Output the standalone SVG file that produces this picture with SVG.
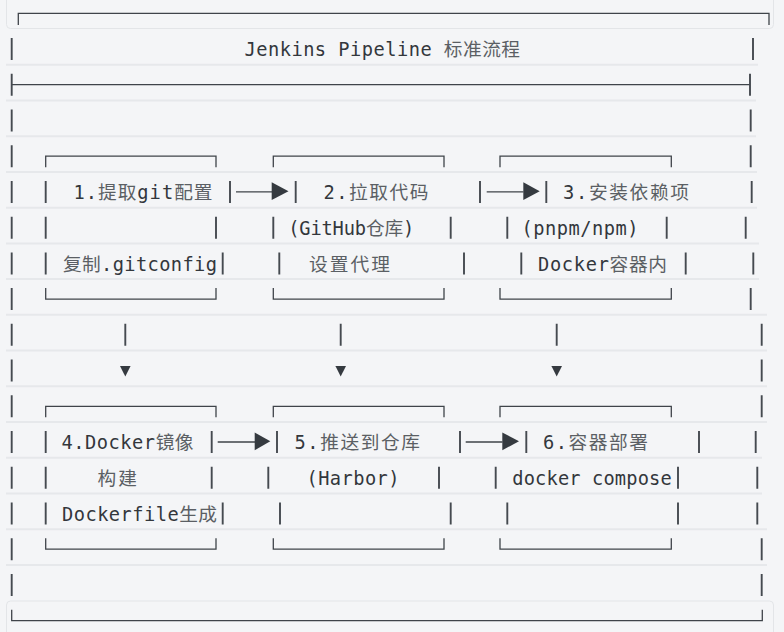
<svg xmlns="http://www.w3.org/2000/svg" width="784" height="632" viewBox="0 0 784 632">
<style>
.bg{fill:#f4f5f7}
.sep{stroke:#e6e8eb;stroke-width:2;fill:none}
.rowbox{fill:none;stroke:#e3e5e8;stroke-width:1}
.ln{stroke:#3f444a;stroke-width:1.3;fill:none}
.vb{stroke:#454a50;stroke-width:1.9;fill:none}
.ah{fill:#353a40}
.t{font-family:"DejaVu Sans Mono","Noto Sans CJK SC",monospace;font-size:18.7px;fill:#33373c}
.c{font-family:"Noto Sans CJK SC","DejaVu Sans Mono",sans-serif;fill:#5b5f64}
</style>
<rect class="bg" x="0" y="0" width="784" height="632"/>
<g id="row-separators">
<rect class="rowbox" x="6.5" y="-6" width="767" height="34.5" rx="4"/>
<rect class="rowbox" x="6.5" y="601" width="767" height="40" rx="4"/>
<path class="sep" d="M6,64.7H758 M6,100.5H756 M6,136.2H756 M6,171.9H757 M6,207.7H757 M6,243.4H759 M6,279.1H759 M6,314.8H767 M6,350.6H767 M6,386.3H767 M6,422H767 M6,457.8H762 M6,493.5H762 M6,529.2H767 M6,565H767"/>
</g>
<g id="frame">
<path class="ln" d="M18.3,25V13.3H769V25"/>
<path class="ln" d="M11.7,84.7H750"/>
<path class="ln" d="M11.7,609.7V620.7H762.3V609.7"/>
<path class="vb" d="M11.7,38V60 M753,38V60 M11.7,73.7V95.7 M750,73.7V95.7 M11.7,109.5V131.5 M750.7,109.5V131.5 M11.7,145.2V167.2 M750.7,145.2V167.2 M11.7,180.9V202.9 M751.7,180.9V202.9 M11.7,216.7V238.7 M745.7,216.7V238.7 M11.7,252.4V274.4 M753.3,252.4V274.4 M11.7,288.1V310.1 M750.7,288.1V310.1 M11.7,323.8V345.8 M761.7,323.8V345.8 M11.7,359.6V381.6 M761.7,359.6V381.6 M11.7,395.3V417.3 M761.7,395.3V417.3 M11.7,431V453 M755.7,431V453 M11.7,466.8V488.8 M757.3,466.8V488.8 M11.7,502.5V524.5 M757.3,502.5V524.5 M11.7,538.2V560.2 M761.7,538.2V560.2 M11.7,574V596 M761.7,574V596"/>
</g>
<g id="title">
<text class="t" x="244.5" y="56.3" textLength="275.5" lengthAdjust="spacing">Jenkins Pipeline <tspan class="c">标准流程</tspan></text>
</g>
<g id="node1">
<path class="ln" d="M45.7,167.2V156.2H216V167.2 M45.7,288.1V299.1H216V288.1"/>
<path class="vb" d="M45.7,180.9V202.9 M230,180.9V202.9 M45.7,216.7V238.7 M216,216.7V238.7 M45.7,252.4V274.4 M222.7,252.4V274.4"/>
<text class="t" x="73.5" y="199.2" textLength="139" lengthAdjust="spacing">1.<tspan class="c">提取</tspan>git<tspan class="c">配置</tspan></text>
<text class="t" x="63" y="270.7" textLength="154" lengthAdjust="spacing"><tspan class="c">复制</tspan>.gitconfig</text>
</g>
<g id="node2">
<path class="ln" d="M273.3,167.2V156.2H444V167.2 M273.3,288.1V299.1H444V288.1"/>
<path class="vb" d="M295.7,180.9V202.9 M480,180.9V202.9 M273.3,216.7V238.7 M450.7,216.7V238.7 M279.3,252.4V274.4 M464,252.4V274.4"/>
<text class="t" x="323.5" y="199.2" textLength="105" lengthAdjust="spacing">2.<tspan class="c">拉取代码</tspan></text>
<text class="t" x="288.2" y="234.9" textLength="126" lengthAdjust="spacing">(GitHub<tspan class="c">仓库</tspan>)</text>
<text class="t c" x="309" y="270.7" textLength="81" lengthAdjust="spacing">设置代理</text>
</g>
<g id="node3">
<path class="ln" d="M500,167.2V156.2H671.3V167.2 M500,288.1V299.1H671.3V288.1"/>
<path class="vb" d="M546.3,180.9V202.9 M507.3,216.7V238.7 M666.7,216.7V238.7 M521.3,252.4V274.4 M685.7,252.4V274.4"/>
<text class="t" x="563" y="199.2" textLength="126" lengthAdjust="spacing">3.<tspan class="c">安装依赖项</tspan></text>
<text class="t" x="521.5" y="234.9" textLength="117" lengthAdjust="spacing">(pnpm/npm)</text>
<text class="t" x="538" y="270.7" textLength="129" lengthAdjust="spacing">Docker<tspan class="c">容器内</tspan></text>
</g>
<g id="node4">
<path class="ln" d="M45.7,417.3V406.3H216V417.3 M45.7,538.2V549.2H216V538.2"/>
<path class="vb" d="M45.7,431V453 M211.7,431V453 M45.7,466.8V488.8 M211.7,466.8V488.8 M45.7,502.5V524.5 M222.7,502.5V524.5"/>
<text class="t" x="61.5" y="449.3" textLength="132" lengthAdjust="spacing">4.Docker<tspan class="c">镜像</tspan></text>
<text class="t c" x="97.5" y="485.1" textLength="39.5" lengthAdjust="spacing">构建</text>
<text class="t" x="62" y="520.8" textLength="155" lengthAdjust="spacing">Dockerfile<tspan class="c">生成</tspan></text>
</g>
<g id="node5">
<path class="ln" d="M273.3,417.3V406.3H444V417.3 M273.3,538.2V549.2H444V538.2"/>
<path class="vb" d="M277,431V453 M460,431V453 M268.3,466.8V488.8 M439,466.8V488.8 M280,502.5V524.5 M450.7,502.5V524.5"/>
<text class="t" x="294.5" y="449.3" textLength="125.5" lengthAdjust="spacing">5.<tspan class="c">推送到仓库</tspan></text>
<text class="t" x="306.5" y="485.1" textLength="93" lengthAdjust="spacing">(Harbor)</text>
</g>
<g id="node6">
<path class="ln" d="M500,417.3V406.3H671.3V417.3 M500,538.2V549.2H671.3V538.2"/>
<path class="vb" d="M526.3,431V453 M699,431V453 M495.7,466.8V488.8 M678,466.8V488.8 M507.3,502.5V524.5 M678,502.5V524.5"/>
<text class="t" x="543" y="449.3" textLength="105" lengthAdjust="spacing">6.<tspan class="c">容器部署</tspan></text>
<text class="t" x="512.3" y="485.1" textLength="159.4" lengthAdjust="spacing">docker compose</text>
</g>
<g id="connectors">
<path class="ln" d="M236,191.9H272 M486.7,191.9H523.5 M217.7,442H255 M465.7,442H502.5"/>
<polygon class="ah" points="271.7,182.3 288.5,191.2 271.7,200.1"/>
<polygon class="ah" points="523.3,182.3 539.7,191.2 523.3,200.1"/>
<polygon class="ah" points="254.7,432.4 270.3,441.3 254.7,450.2"/>
<polygon class="ah" points="502.3,432.4 519,441.3 502.3,450.2"/>
<path class="vb" d="M125.3,323.8V345.8 M340.7,323.8V345.8 M556.7,323.8V345.8"/>
<polygon class="ah" points="120,366 130.6,366 125.3,376.5"/>
<polygon class="ah" points="335.4,366 346,366 340.7,376.5"/>
<polygon class="ah" points="551.4,366 562,366 556.7,376.5"/>
</g>
</svg>
